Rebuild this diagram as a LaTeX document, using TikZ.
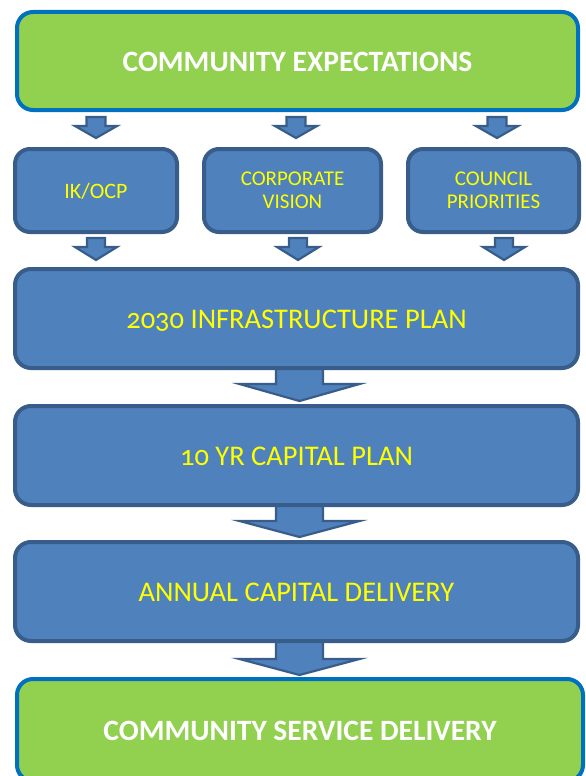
\documentclass[tikz,border=0pt]{standalone}
\usepackage{fontspec}
\setmainfont{Carlito}[Numbers=OldStyle]
\usetikzlibrary{backgrounds,calc}
\definecolor{boxblue}{HTML}{4F81BD}
\definecolor{boxline}{HTML}{385D8A}
\definecolor{boxgreen}{HTML}{92D050}
\definecolor{greenline}{HTML}{0070C0}
\definecolor{txtyellow}{HTML}{FFFF00}
\tikzset{
  bluebox/.style={draw=boxline, fill=boxblue, line width=4pt, rounded corners=15pt,
    text=txtyellow, align=center, inner sep=0pt},
  greenbox/.style={draw=greenline, fill=boxgreen, line width=4pt, rounded corners=16pt,
    text=white, align=center, inner sep=0pt, font=\bfseries\fontsize{29.5}{34}\selectfont,
    text height=23pt, text depth=2pt},
  smalltxt/.style={font=\fontsize{21}{22.5}\selectfont},
  bigtxt/.style={font=\fontsize{28.5}{32}\selectfont, text height=22.4pt, text depth=2pt},
  barrow/.style={draw=boxline, fill=boxblue, line width=2.2pt, line join=miter}
}
% #1 start, #2 end, #3 shaft half width, #4 head half width, #5 head length
\newcommand\blockarrow[5]{%
  \draw[barrow] let \p1=(#1), \p2=(#2) in
    (\x1-#3pt,\y1) -- (\x1+#3pt,\y1) -- (\x1+#3pt,\y2+#5pt) -- (\x1+#4pt,\y2+#5pt)
    -- (\x1,\y2) -- (\x1-#4pt,\y2+#5pt) -- (\x1-#3pt,\y2+#5pt) -- cycle;}
\begin{document}
\begin{tikzpicture}[x=1pt,y=-1pt]
\useasboundingbox (0,0) rectangle (586,776);
\clip (0,0) rectangle (586,776);
% boxes
\node[greenbox, minimum width=561pt, minimum height=98pt] (top) at (297.5,61) {COMMUNITY EXPECTATIONS};
\node[bluebox, font=\fontsize{22}{22.5}\selectfont, text height=18.2pt, text depth=2pt, minimum width=162pt, minimum height=83pt] (ik) at (96,190.5) {IK/OCP};
\node[bluebox, smalltxt, minimum width=177pt, minimum height=83pt] (corp) at (292.5,190.5) {CORPORATE\\VISION};
\node[bluebox, smalltxt, minimum width=171pt, minimum height=83pt] (council) at (493.5,190.5) {COUNCIL\\PRIORITIES};
\node[bluebox, bigtxt, minimum width=563pt, minimum height=99pt, rounded corners=16pt] (infra) at (296.5,318.5) {2030 INFRASTRUCTURE PLAN};
\node[bluebox, bigtxt, minimum width=563pt, minimum height=99pt, rounded corners=16pt] (cap) at (296.5,455.5) {10 YR CAPITAL PLAN};
\node[bluebox, bigtxt, minimum width=563pt, minimum height=99pt, rounded corners=16pt] (annual) at (296.5,591.5) {ANNUAL CAPITAL DELIVERY};
\node[greenbox, minimum width=566pt, minimum height=102pt] (service) at (300,730) {COMMUNITY SERVICE DELIVERY};
% arrow end points
\coordinate (a1s) at (96,117);   \coordinate (a1e) at (96,138);
\coordinate (a2s) at (296,117);  \coordinate (a2e) at (296,138);
\coordinate (a3s) at (497,117);  \coordinate (a3e) at (497,138);
\coordinate (b1s) at (96,238);   \coordinate (b1e) at (96,260);
\coordinate (b2s) at (298,238);  \coordinate (b2e) at (298,260);
\coordinate (b3s) at (504,238);  \coordinate (b3e) at (504,260);
\coordinate (c1s) at ($(infra.south -| 299.5,0)+(0,-3)$);  \coordinate (c1e) at (299.5,401);
\coordinate (c2s) at ($(cap.south -| 299.5,0)+(0,-3)$);    \coordinate (c2e) at (299.5,537);
\coordinate (c3s) at ($(annual.south -| 299.5,0)+(0,-3)$); \coordinate (c3e) at (299.5,675);
\begin{scope}[on background layer]
\blockarrow{a1s}{a1e}{9.5}{21}{12}
\blockarrow{a2s}{a2e}{9.5}{21}{12}
\blockarrow{a3s}{a3e}{9.5}{21}{12}
\blockarrow{b1s}{b1e}{9}{21}{13}
\blockarrow{b2s}{b2e}{9}{21}{13}
\blockarrow{b3s}{b3e}{9}{21}{13}
\blockarrow{c1s}{c1e}{23.5}{60}{17}
\blockarrow{c2s}{c2e}{23.5}{60}{16}
\blockarrow{c3s}{c3e}{23.5}{60}{16}
\end{scope}
\end{tikzpicture}
\end{document}
